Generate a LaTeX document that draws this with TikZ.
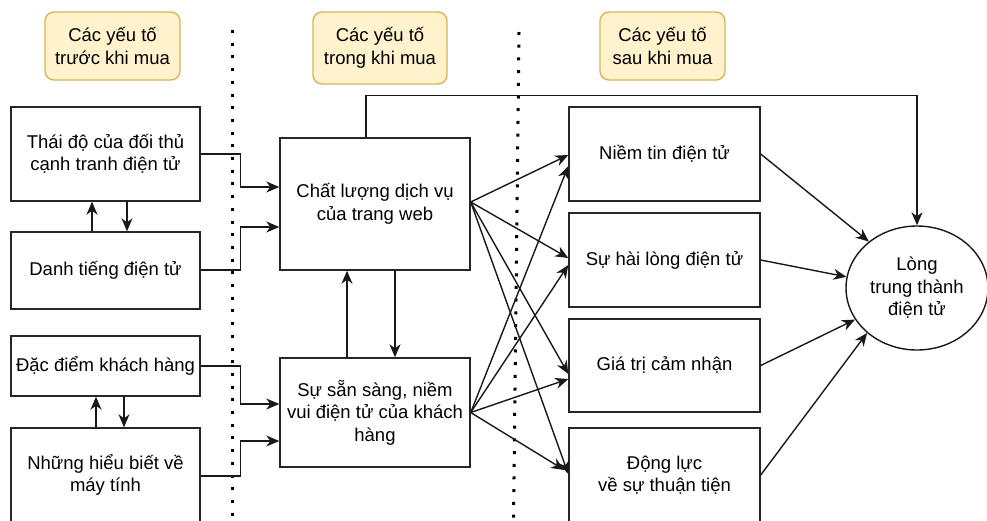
\documentclass[tikz,border=0pt]{standalone}
\usepackage{fontspec}
\setmainfont{Liberation Sans}
\usetikzlibrary{arrows.meta,shapes.geometric,calc}
\definecolor{hdrfill}{RGB}{255,242,204}
\definecolor{hdrline}{RGB}{214,182,86}
\begin{document}
\begin{tikzpicture}[x=1pt,y=-1pt,
  txt/.style={font=\fontsize{18.5}{22.5}\selectfont, align=center, inner sep=0pt},
  box/.style={txt, draw=black!85, line width=1.4pt, fill=white},
  hdr/.style={txt, draw=hdrline, fill=hdrfill, rounded corners=9pt, line width=1.4pt},
  arr/.style={line width=1.4pt, draw=black!90, -{Stealth[length=13pt,width=11pt,inset=4pt]}},
  sep/.style={line width=3pt, dash pattern=on 3pt off 9.7pt}]
\clip (0,0) rectangle (987,520);
\fill[white] (0,0) rectangle (987,520);

% headers
\node[hdr, minimum width=135pt, minimum height=68pt] (h1) at (112.5,46) {Các yếu tố\\trước khi mua};
\node[hdr, minimum width=134pt, minimum height=72pt] (h2) at (380,48) {Các yếu tố\\trong khi mua};
\node[hdr, minimum width=125pt, minimum height=68pt] (h3) at (662.5,46) {Các yếu tố\\sau khi mua};

% separators
\draw[sep] (232,30) -- (232,522);
\draw[sep] (519,32) -- (513.5,522);

% left column
\node[box, minimum width=189pt, minimum height=94pt] (b1) at (105.5,154) {Thái độ của đối thủ\\cạnh tranh điện tử};
\node[box, minimum width=189pt, minimum height=77pt] (b2) at (105.5,270.5) {Danh tiếng điện tử};
\node[box, minimum width=189pt, minimum height=60pt] (b3) at (105.5,366) {Đặc điểm khách hàng};
\node[box, minimum width=189pt, minimum height=94pt] (b4) at (105.5,475) {Những hiểu biết về\\máy tính};

% middle column
\node[box, minimum width=190pt, minimum height=132pt] (m1) at (375,204) {Chất lượng dịch vụ\\của trang web};
\node[box, minimum width=190pt, minimum height=109pt] (m2) at (375,412.5) {Sự sẵn sàng, niềm\\vui điện tử của khách\\hàng};

% right column
\node[box, minimum width=191pt, minimum height=94pt] (r1) at (664.5,154) {Niềm tin điện tử};
\node[box, minimum width=191pt, minimum height=94pt] (r2) at (664.5,260) {Sự hài lòng điện tử};
\node[box, minimum width=191pt, minimum height=93pt] (r3) at (664.5,365.5) {Giá trị cảm nhận};
\node[box, minimum width=191pt, minimum height=94pt] (r4) at (664.5,475) {Động lực\\về sự thuận tiện};

% target ellipse
\node[txt, draw=black!90, line width=1.4pt, ellipse, minimum width=142pt, minimum height=124pt] (ell) at (917,288) {Lòng\\trung thành\\điện tử};

% vertical pairs
\draw[arr] ([xshift=-13.5pt]b2.north) -- ([xshift=-13.5pt]b1.south);
\draw[arr] ([xshift=21.5pt]b1.south) -- ([xshift=21.5pt]b2.north);
\draw[arr] ([xshift=-9.5pt]b4.north) -- ([xshift=-9.5pt]b3.south);
\draw[arr] ([xshift=18.5pt]b3.south) -- ([xshift=18.5pt]b4.north);
\draw[arr] ([xshift=-28pt]m2.north) -- ([xshift=-28pt]m1.south);
\draw[arr] ([xshift=20pt]m1.south) -- ([xshift=20pt]m2.north);

% left to middle
\draw[arr] (b1.east) -- ++(40,0) |- ([yshift=17pt]m1.west);
\draw[arr] ([yshift=0.5pt]b2.east) -- ++(40,0) |- ([yshift=-23pt]m1.west);
\draw[arr] (b3.east) -- ++(40,0) |- ([yshift=8.5pt]m2.west);
\draw[arr] ([yshift=-1pt]b4.east) -- ++(40,0) |- ([yshift=-28.5pt]m2.west);

% top link
\draw[arr] ([xshift=-9pt]m1.north) -- ++(0,-42) -| (ell.north);

% fans
\draw[arr] ([yshift=2pt]m1.east) -- ([yshift=-1pt]r1.west);
\draw[arr] ([yshift=2pt]m1.east) -- ([yshift=2pt]r2.west);
\draw[arr] ([yshift=2pt]m1.east) -- ([yshift=-8.5pt]r3.west);
\draw[arr] ([yshift=2pt]m1.east) -- ([yshift=1pt]r4.west);
\draw[arr] (m2.east) -- ([yshift=-12pt]r1.west);
\draw[arr] (m2.east) -- ([yshift=-5pt]r2.west);
\draw[arr] (m2.east) -- ([yshift=-13.5pt]r3.west);
\draw[arr] (m2.east) -- ([yshift=5pt,xshift=-4pt]r4.west);

% to loyalty
\draw[arr] (r1.east) -- (ell.136);
\draw[arr] (r2.east) -- (ell.171);
\draw[arr] (r3.east) -- (ell.207);
\draw[arr] (r4.east) -- (ell.222);
\end{tikzpicture}
\end{document}
